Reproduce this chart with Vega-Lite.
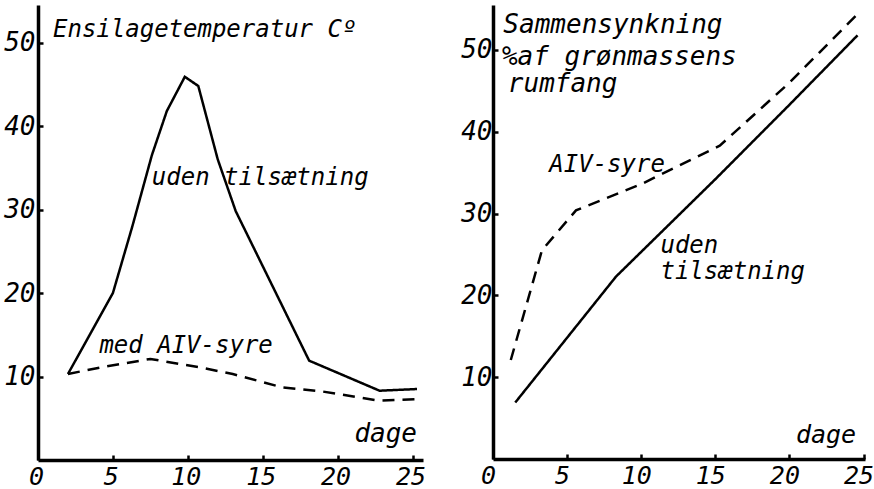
{
  "$schema": "https://vega.github.io/schema/vega-lite/v6.json",
  "padding": {"left": 0, "top": 5, "right": 0, "bottom": 0},
  "background": "white",
  "spacing": 27,
  "resolve": {"scale": {"strokeDash": "independent"}},
  "config": {
    "view": {"stroke": null},
    "axis": {
      "grid": false,
      "domainColor": "black",
      "domainWidth": 3.5,
      "tickColor": "black",
      "tickWidth": 2.5,
      "tickSize": -5,
      "labelFont": "DejaVu Sans Mono",
      "labelFontStyle": "italic",
      "labelFontSize": 26,
      "labelColor": "black",
      "title": null
    },
    "axisX": {"labelFontSize": 25, "labelPadding": 9},
    "text": {"font": "DejaVu Sans Mono", "fontStyle": "italic", "fontSize": 24, "color": "black"}
  },
  "datasets": {
    "left": [
      {"serie": "uden tilsætning", "dag": 2, "v": 10.3},
      {"serie": "uden tilsætning", "dag": 5, "v": 20},
      {"serie": "uden tilsætning", "dag": 6.3, "v": 28},
      {"serie": "uden tilsætning", "dag": 7.6, "v": 36.5},
      {"serie": "uden tilsætning", "dag": 8.6, "v": 41.8},
      {"serie": "uden tilsætning", "dag": 9.8, "v": 45.9},
      {"serie": "uden tilsætning", "dag": 10.7, "v": 44.8},
      {"serie": "uden tilsætning", "dag": 12, "v": 36},
      {"serie": "uden tilsætning", "dag": 13.2, "v": 29.8},
      {"serie": "uden tilsætning", "dag": 18.1, "v": 11.9},
      {"serie": "uden tilsætning", "dag": 22.8, "v": 8.3},
      {"serie": "uden tilsætning", "dag": 25.3, "v": 8.5},
      {"serie": "med AIV-syre", "dag": 2, "v": 10.3},
      {"serie": "med AIV-syre", "dag": 4.5, "v": 11.2},
      {"serie": "med AIV-syre", "dag": 7.5, "v": 12.1},
      {"serie": "med AIV-syre", "dag": 10.8, "v": 11.1},
      {"serie": "med AIV-syre", "dag": 13, "v": 10.3},
      {"serie": "med AIV-syre", "dag": 16.3, "v": 8.7},
      {"serie": "med AIV-syre", "dag": 19, "v": 8.2},
      {"serie": "med AIV-syre", "dag": 22.8, "v": 7.1},
      {"serie": "med AIV-syre", "dag": 25.5, "v": 7.3}
    ],
    "right": [
      {"serie": "uden tilsætning", "dag": 1.5, "v": 6.9},
      {"serie": "uden tilsætning", "dag": 8.3, "v": 22.3},
      {"serie": "uden tilsætning", "dag": 15, "v": 34.2},
      {"serie": "uden tilsætning", "dag": 20, "v": 43.3},
      {"serie": "uden tilsætning", "dag": 24.6, "v": 51.8},
      {"serie": "AIV-syre", "dag": 1.2, "v": 12.1},
      {"serie": "AIV-syre", "dag": 3.3, "v": 25.5},
      {"serie": "AIV-syre", "dag": 5.6, "v": 30.4},
      {"serie": "AIV-syre", "dag": 10, "v": 33.6},
      {"serie": "AIV-syre", "dag": 15.3, "v": 38.3},
      {"serie": "AIV-syre", "dag": 20, "v": 46},
      {"serie": "AIV-syre", "dag": 24.6, "v": 54.4}
    ],
    "leftLabels": [
      {"dag": 1.0, "v": 51.5, "txt": "Ensilagetemperatur Cº"},
      {"dag": 7.6, "v": 33.8, "txt": "uden tilsætning"},
      {"dag": 4.1, "v": 13.7, "txt": "med AIV-syre"}
    ],
    "rightTitle": [
      {"dag": 0.7, "v": 53, "txt": "Sammensynkning"},
      {"dag": 0.6, "v": 49.2, "txt": "%af grønmassens"},
      {"dag": 1.0, "v": 45.8, "txt": "rumfang"}
    ],
    "rightLabels": [
      {"dag": 3.8, "v": 35.9, "txt": "AIV-syre"},
      {"dag": 11.3, "v": 26, "txt": "uden"},
      {"dag": 11.3, "v": 22.9, "txt": "tilsætning"}
    ],
    "leftDage": [{"dag": 25.3, "v": 3.1, "txt": "dage"}],
    "rightDage": [{"dag": 24.5, "v": 2.9, "txt": "dage"}]
  },
  "hconcat": [
    {
      "width": 385,
      "height": 455,
      "layer": [
        {
          "data": {"name": "left"},
          "mark": {"type": "line", "color": "black", "strokeWidth": 2.5},
          "encoding": {
            "x": {"field": "dag", "type": "quantitative", "scale": {"domain": [0, 25.7], "nice": false, "zero": false},
                  "axis": {"values": [0, 5, 10, 15, 20, 25], "labelFlush": false, "labelOffset": -2}},
            "y": {"field": "v", "type": "quantitative", "scale": {"domain": [0, 54.5], "nice": false},
                  "axis": {"values": [10, 20, 30, 40, 50], "labelPadding": 8, "minExtent": 38, "maxExtent": 38}},
            "detail": {"field": "serie"},
            "strokeDash": {"field": "serie", "type": "nominal", "legend": null,
                           "scale": {"domain": ["uden tilsætning", "med AIV-syre"], "range": [[1, 0], [12, 8]]}}
          }
        },
        {
          "data": {"name": "leftLabels"},
          "mark": {"type": "text", "align": "left", "baseline": "middle"},
          "encoding": {
            "x": {"field": "dag", "type": "quantitative"},
            "y": {"field": "v", "type": "quantitative"},
            "text": {"field": "txt"}
          }
        },
        {
          "data": {"name": "leftDage"},
          "mark": {"type": "text", "align": "right", "baseline": "middle", "fontSize": 26},
          "encoding": {
            "x": {"field": "dag", "type": "quantitative"},
            "y": {"field": "v", "type": "quantitative"},
            "text": {"field": "txt"}
          }
        }
      ]
    },
    {
      "width": 372,
      "height": 454,
      "layer": [
        {
          "data": {"name": "right"},
          "mark": {"type": "line", "color": "black", "strokeWidth": 2.5},
          "encoding": {
            "x": {"field": "dag", "type": "quantitative", "scale": {"domain": [0, 25.1], "nice": false, "zero": false},
                  "axis": {"values": [0, 5, 10, 15, 20, 25], "labelFlush": false, "labelOffset": -5}},
            "y": {"field": "v", "type": "quantitative", "scale": {"domain": [0, 55.5], "nice": false},
                  "axis": {"values": [10, 20, 30, 40, 50], "labelPadding": 6, "minExtent": 40, "maxExtent": 40}},
            "detail": {"field": "serie"},
            "strokeDash": {"field": "serie", "type": "nominal", "legend": null,
                           "scale": {"domain": ["uden tilsætning", "AIV-syre"], "range": [[1, 0], [12, 8]]}}
          }
        },
        {
          "data": {"name": "rightTitle"},
          "mark": {"type": "text", "align": "left", "baseline": "middle", "fontSize": 26},
          "encoding": {
            "x": {"field": "dag", "type": "quantitative"},
            "y": {"field": "v", "type": "quantitative"},
            "text": {"field": "txt"}
          }
        },
        {
          "data": {"name": "rightLabels"},
          "mark": {"type": "text", "align": "left", "baseline": "middle"},
          "encoding": {
            "x": {"field": "dag", "type": "quantitative"},
            "y": {"field": "v", "type": "quantitative"},
            "text": {"field": "txt"}
          }
        },
        {
          "data": {"name": "rightDage"},
          "mark": {"type": "text", "align": "right", "baseline": "middle", "fontSize": 25},
          "encoding": {
            "x": {"field": "dag", "type": "quantitative"},
            "y": {"field": "v", "type": "quantitative"},
            "text": {"field": "txt"}
          }
        }
      ]
    }
  ]
}
